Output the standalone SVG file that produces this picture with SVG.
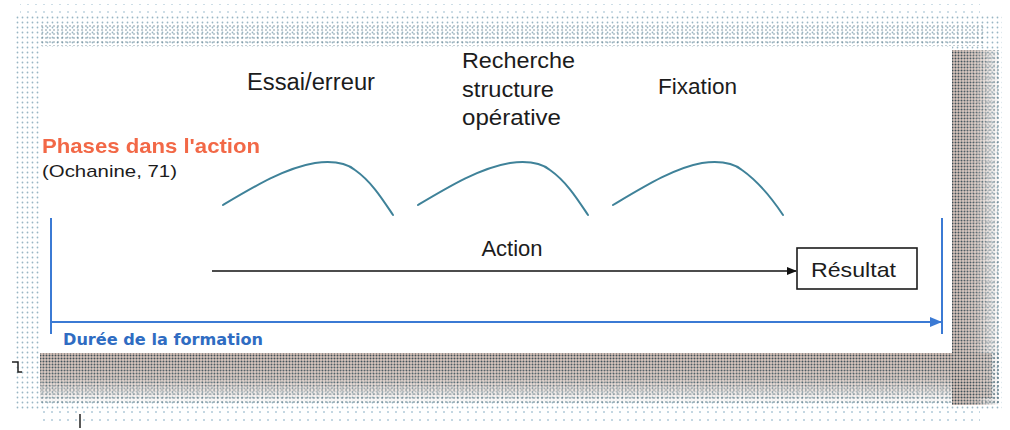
<svg xmlns="http://www.w3.org/2000/svg" width="1010" height="430" viewBox="0 0 1010 430">
<style>
  .t { font-family: "Liberation Sans", Arial, sans-serif; fill: #1c1c1c; }
  .curve { fill: none; stroke: #3f8299; stroke-width: 2; stroke-linecap: round; }
  .blue { stroke: #3b7ad4; stroke-width: 2; fill: none; }
</style>
<defs>
  <pattern id="dotsSparse" width="8" height="8" patternUnits="userSpaceOnUse">
    <circle cx="4" cy="4" r="1" fill="#7aa6bd"/>
  </pattern>
  <pattern id="dotsLight" width="5" height="5" patternUnits="userSpaceOnUse">
    <circle cx="2.5" cy="2.5" r="0.9" fill="#6d97ab"/>
  </pattern>
  <pattern id="dotsMed" width="4" height="4" patternUnits="userSpaceOnUse">
    <circle cx="2" cy="2" r="1" fill="#4f6f7c"/>
  </pattern>
  <pattern id="dotsDark" width="3" height="3" patternUnits="userSpaceOnUse">
    <rect width="3" height="3" fill="#d8c4ba"/>
    <circle cx="1.5" cy="1.5" r="1" fill="#3a4a52"/>
  </pattern>
  <linearGradient id="fadeX" x1="0" y1="0" x2="1" y2="0">
    <stop offset="0" stop-color="#fff" stop-opacity="1"/>
    <stop offset="0.5" stop-color="#fff" stop-opacity="0.8"/>
    <stop offset="1" stop-color="#fff" stop-opacity="0"/>
  </linearGradient>
  <linearGradient id="fadeY" x1="0" y1="0" x2="0" y2="1">
    <stop offset="0" stop-color="#fff" stop-opacity="1"/>
    <stop offset="0.5" stop-color="#fff" stop-opacity="0.8"/>
    <stop offset="1" stop-color="#fff" stop-opacity="0"/>
  </linearGradient>
  <mask id="mRight" maskUnits="userSpaceOnUse" x="0" y="0" width="1010" height="430">
    <rect x="952" y="50" width="48" height="355" fill="url(#fadeX)"/>
  </mask>
  <mask id="mBottom" maskUnits="userSpaceOnUse" x="0" y="0" width="1010" height="430">
    <rect x="40" y="353" width="912" height="50" fill="url(#fadeY)"/>
  </mask>
  <marker id="arrBlack" markerWidth="10" markerHeight="8" refX="9" refY="4" orient="auto" markerUnits="userSpaceOnUse">
    <path d="M0,0 L10,4 L0,8 Z" fill="#111"/>
  </marker>
  <marker id="arrBlue" markerWidth="12" markerHeight="10" refX="11" refY="5" orient="auto" markerUnits="userSpaceOnUse">
    <path d="M0,0 L12,5 L0,10 Z" fill="#3b7ad4"/>
  </marker>
  <filter id="soft" x="-5%" y="-20%" width="110%" height="140%">
    <feGaussianBlur stdDeviation="0.7"/>
  </filter>
</defs>

<g id="shadow">
  <rect x="20" y="4" width="960" height="10" fill="url(#dotsSparse)" opacity="0.5"/>
  <rect x="40" y="410" width="940" height="16" fill="url(#dotsSparse)" opacity="0.6"/>
  <rect x="14" y="16" width="988" height="394" fill="url(#dotsLight)" opacity="0.7"/>
  <rect x="40" y="24" width="945" height="22" fill="url(#dotsMed)" opacity="0.45"/>
  <rect x="952" y="50" width="48" height="355" fill="url(#dotsMed)" opacity="0.6"/>
  <rect x="40" y="353" width="960" height="52" fill="url(#dotsMed)" opacity="0.6"/>
  <rect x="952" y="50" width="48" height="355" fill="url(#dotsDark)" mask="url(#mRight)"/>
  <rect x="40" y="353" width="912" height="50" fill="url(#dotsDark)" mask="url(#mBottom)"/>
  <rect x="952" y="353" width="40" height="45" fill="url(#dotsDark)" opacity="0.6"/>
  <rect x="40" y="47" width="912" height="306" fill="#ffffff"/>
  <path d="M12,362 H18 V372 H22" fill="none" stroke="#222" stroke-width="1.5"/>
  <line x1="80" y1="414" x2="80" y2="428" stroke="#222" stroke-width="1.5"/>
</g>

<g id="connectors">
  <line x1="212" y1="271" x2="796" y2="271" stroke="#111" stroke-width="1.6" marker-end="url(#arrBlack)"/>
  <line class="blue" x1="51" y1="218" x2="51" y2="334"/>
  <line class="blue" x1="942" y1="218" x2="942" y2="334"/>
  <line class="blue" x1="51" y1="322" x2="941" y2="322" marker-end="url(#arrBlue)"/>
</g>

<g id="phases-title">
  <text x="42" y="153" font-family="Liberation Sans, Arial, sans-serif" font-weight="bold" font-size="21" fill="#f26846" textLength="218" lengthAdjust="spacingAndGlyphs" filter="url(#soft)">Phases dans l'action</text>
  <text class="t" x="42" y="177" font-size="17" textLength="135" lengthAdjust="spacingAndGlyphs">(Ochanine, 71)</text>
</g>

<g id="phase-essai">
  <text class="t" x="247" y="90" font-size="23" textLength="128" lengthAdjust="spacingAndGlyphs">Essai/erreur</text>
  <path class="curve" d="M223,205 C255,186 285,168 315,163 C330,161 345,162 355,170 C372,182 383,200 393,215"/>
</g>

<g id="phase-recherche">
  <text class="t" x="462" y="68" font-size="22" textLength="113" lengthAdjust="spacingAndGlyphs">Recherche</text>
  <text class="t" x="462" y="97" font-size="22" textLength="92" lengthAdjust="spacingAndGlyphs">structure</text>
  <text class="t" x="462" y="125" font-size="22" textLength="99" lengthAdjust="spacingAndGlyphs">opérative</text>
  <path class="curve" d="M418,205 C450,186 480,168 510,163 C525,161 540,162 550,170 C567,182 578,200 588,215"/>
</g>

<g id="phase-fixation">
  <text class="t" x="658" y="94" font-size="22" textLength="79" lengthAdjust="spacingAndGlyphs">Fixation</text>
  <path class="curve" d="M613,205 C645,186 674,168 702,163 C717,161 732,162 742,170 C759,182 773,200 783,215"/>
</g>

<g id="action">
  <text class="t" x="512" y="256" font-size="22" text-anchor="middle">Action</text>
</g>

<g id="resultat">
  <rect x="797" y="248" width="120" height="41" fill="#ffffff" stroke="#1c1c1c" stroke-width="1.6"/>
  <text class="t" x="811" y="277" font-size="21" textLength="85" lengthAdjust="spacingAndGlyphs">Résultat</text>
</g>

<g id="duree">
  <text x="63" y="345" font-family="DejaVu Sans, Verdana, sans-serif" font-weight="bold" font-size="15" fill="#2f6cc2" textLength="200" lengthAdjust="spacingAndGlyphs">Durée de la formation</text>
</g>
</svg>
